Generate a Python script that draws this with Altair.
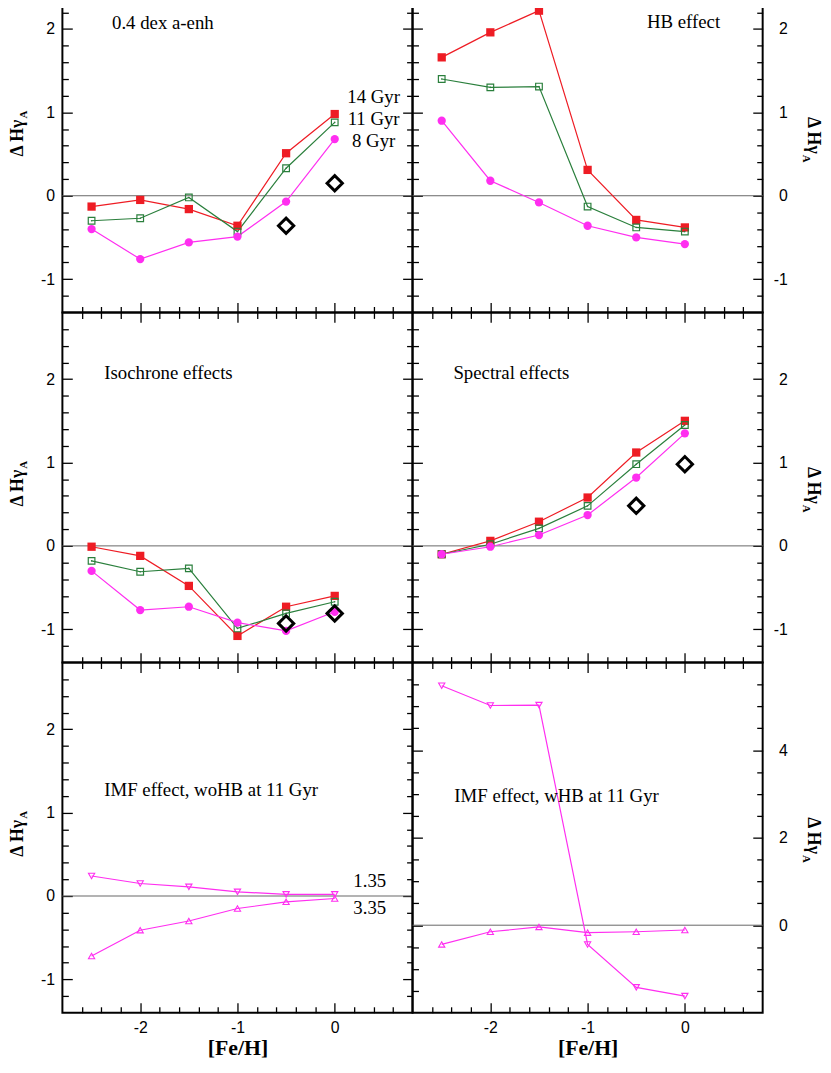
import altair as alt
import pandas as pd
import numpy as np

# ---------------- data ----------------
FEH = [-2.5, -2.0, -1.5, -1.0, -0.5, 0.0]
OBS_FEH = [-0.5, 0.0]

AENH_14 = [-0.13, -0.05, -0.16, -0.36, 0.51, 0.98]
AENH_11 = [-0.30, -0.27, -0.02, -0.43, 0.33, 0.88]
AENH_8 = [-0.40, -0.76, -0.56, -0.49, -0.07, 0.68]
AENH_OBS = [-0.36, 0.15]

HB_14 = [1.66, 1.96, 2.22, 0.31, -0.29, -0.38]
HB_11 = [1.40, 1.30, 1.31, -0.13, -0.38, -0.43]
HB_8 = [0.90, 0.18, -0.08, -0.36, -0.50, -0.58]

ISO_14 = [-0.01, -0.12, -0.48, -1.08, -0.73, -0.60]
ISO_11 = [-0.18, -0.31, -0.27, -0.99, -0.81, -0.67]
ISO_8 = [-0.30, -0.77, -0.73, -0.92, -1.02, -0.79]
ISO_OBS = [-0.93, -0.81]

SPEC_14 = [-0.10, 0.06, 0.29, 0.58, 1.12, 1.50]
SPEC_11 = [-0.10, 0.02, 0.21, 0.48, 0.98, 1.45]
SPEC_8 = [-0.10, -0.01, 0.13, 0.37, 0.82, 1.35]
SPEC_OBS = [0.48, 0.98]

WOHB_135 = [0.24, 0.15, 0.11, 0.05, 0.02, 0.02]
WOHB_335 = [-0.72, -0.41, -0.30, -0.15, -0.07, -0.03]

WHB_135 = [5.47, 5.02, 5.03, -0.44, -1.42, -1.62]
WHB_335 = [-0.44, -0.15, -0.04, -0.17, -0.15, -0.11]

# tick positions
X_DOMAIN = [-2.8, 0.8]
X_MAJOR = [-2, -1, 0]
Y_DOMAIN = [-1.4, 2.8]
Y_MAJOR = [-1, 0, 1, 2]
Y2_DOMAIN = [-2, 6]
Y2_MAJOR = [0, 2, 4]

RED = "#ee1c24"
GREEN = "#2a7f3c"
MAGENTA = "#ff2ef0"

W, H = 354, 354
SERIF = "Liberation Serif"
SANS = "Liberation Sans"

STYLES = {
    "14 Gyr": dict(color=RED, shape="square", filled=True, size=70, sw=1),
    "11 Gyr": dict(color=GREEN, shape="square", filled=False, size=45, sw=1.2),
    "8 Gyr": dict(color=MAGENTA, shape="circle", filled=True, size=70, sw=1),
    "1.35": dict(color=MAGENTA, shape="triangle-down", filled=False, size=40, sw=1.1),
    "3.35": dict(color=MAGENTA, shape="triangle-up", filled=False, size=40, sw=1.1),
}


def minor(lo, hi, step, majors):
    vals = np.round(np.arange(lo, hi + 1e-9, step), 3)
    return [float(v) for v in vals if not any(abs(v - m) < 1e-6 for m in majors)]


X_MINOR = minor(-2.8, 0.8, 0.2, X_MAJOR + [-2.8, 0.8])


def anchor(xv, yv):
    # invisible helper that fixes the drawing's outer bounds
    return alt.Chart(pd.DataFrame({"a": [0]})).mark_rule(opacity=0, strokeWidth=0.01).encode(
        x=alt.value(xv), x2=alt.value(xv), y=alt.value(yv), y2=alt.value(yv))


def panel(series, obs, texts, ydom, ymajor, ystep, left_col, bottom_row, anchors=()):
    xs = alt.Scale(domain=X_DOMAIN, nice=False, zero=False)
    ys = alt.Scale(domain=ydom, nice=False, zero=False)
    y_minor = minor(ydom[0], ydom[1], ystep, ymajor + ydom)
    base_ax = dict(grid=False, domain=False, tickColor="black", tickWidth=1.3,
                   labelFont=SANS, labelFontSize=16, labelColor="black",
                   labelExpr="'' + datum.value")
    carrier_df = pd.DataFrame({"x": [-1.0], "y": [0.0]})

    def carrier(xaxis, yaxis):
        return alt.Chart(carrier_df).mark_point(opacity=0, size=1).encode(
            x=alt.X("x:Q", scale=xs, axis=xaxis),
            y=alt.Y("y:Q", scale=ys, axis=yaxis),
        )

    xb = dict(base_ax, orient="bottom", offset=-10, tickSize=10, values=X_MAJOR,
              labels=bottom_row, labelPadding=7)
    if bottom_row:
        xb.update(title="[Fe/H]", titleFont=SERIF, titleFontWeight="bold",
                  titleFontSize=22, titleColor="black", titlePadding=2)
    else:
        xb.update(title=None)
    layers = [
        carrier(alt.Axis(**xb),
                alt.Axis(**base_ax, orient="left", offset=-10, tickSize=10, values=ymajor,
                         labels=left_col, labelPadding=8, title=None)),
        carrier(alt.Axis(**base_ax, orient="bottom", offset=-6, tickSize=6, values=X_MINOR,
                         labels=False, title=None),
                alt.Axis(**base_ax, orient="left", offset=-6, tickSize=6, values=y_minor,
                         labels=False, title=None)),
        carrier(alt.Axis(**base_ax, orient="top", offset=-10, tickSize=10, values=X_MAJOR,
                         labels=False, title=None),
                alt.Axis(**base_ax, orient="right", offset=-10, tickSize=10, values=ymajor,
                         labels=not left_col, labelAlign="right", labelPadding=25,
                         title=None)),
        carrier(alt.Axis(**base_ax, orient="top", offset=-6, tickSize=6, values=X_MINOR,
                         labels=False, title=None),
                alt.Axis(**base_ax, orient="right", offset=-6, tickSize=6, values=y_minor,
                         labels=False, title=None)),
    ]

    # zero line
    layers.append(
        alt.Chart(pd.DataFrame({"z": [0.0]})).mark_rule(color="#666666", strokeWidth=1).encode(
            y=alt.Y("z:Q", scale=ys, axis=None))
    )

    rows = []
    for name, vals in series:
        for f, v in zip(FEH, vals):
            rows.append({"feh": f, "val": v, "series": name})
    df = pd.DataFrame(rows)
    names = [n for n, _ in series]
    for name in names:
        st = STYLES[name]
        layers.append(
            alt.Chart(df).transform_filter(alt.datum.series == name).mark_line(
                strokeWidth=1.2, color=st["color"]).encode(
                x=alt.X("feh:Q", scale=xs, axis=None),
                y=alt.Y("val:Q", scale=ys, axis=None),
            )
        )
    for name in names:
        st = STYLES[name]
        layers.append(
            alt.Chart(df).transform_filter(alt.datum.series == name).mark_point(
                shape=st["shape"], filled=st["filled"], size=st["size"], opacity=1,
                color=st["color"], strokeWidth=st["sw"],
            ).encode(
                x=alt.X("feh:Q", scale=xs, axis=None),
                y=alt.Y("val:Q", scale=ys, axis=None),
            )
        )
        if name == "11 Gyr":
            layers.append(
                alt.Chart(df).transform_filter(alt.datum.series == name).mark_point(
                    shape="circle", filled=True, size=2.5, opacity=1, color=st["color"],
                ).encode(
                    x=alt.X("feh:Q", scale=xs, axis=None),
                    y=alt.Y("val:Q", scale=ys, axis=None),
                )
            )

    if obs is not None:
        odf = pd.DataFrame({"feh": OBS_FEH, "val": obs})
        layers.append(
            alt.Chart(odf).mark_point(shape="diamond", filled=False, size=240, opacity=1,
                                      color="black", strokeWidth=3).encode(
                x=alt.X("feh:Q", scale=xs, axis=None),
                y=alt.Y("val:Q", scale=ys, axis=None),
            )
        )

    for (tx, ty, txt, align) in texts:
        tdf = pd.DataFrame({"x": [tx], "y": [ty], "t": [txt]})
        layers.append(
            alt.Chart(tdf).mark_text(align=align, baseline="middle", font=SERIF,
                                     fontSize=19, color="black").encode(
                x=alt.X("x:Q", scale=xs, axis=None),
                y=alt.Y("y:Q", scale=ys, axis=None),
                text="t:N",
            )
        )

    # y title  "Δ Hγ" with subscript A
    one = pd.DataFrame({"a": [0]})
    if left_col:
        layers.append(alt.Chart(one).mark_text(
            text="Δ Hγ", angle=270, align="right", baseline="middle", font=SERIF,
            fontWeight="bold", fontSize=18, color="black").encode(
            x=alt.value(-45), y=alt.value(H / 2 - 18)))
        layers.append(alt.Chart(one).mark_text(
            text="A", angle=270, align="left", baseline="middle", font=SERIF,
            fontWeight="bold", fontSize=11, color="black").encode(
            x=alt.value(-38.5), y=alt.value(H / 2 - 19)))
    else:
        layers.append(alt.Chart(one).mark_text(
            text="Δ Hγ", angle=90, align="right", baseline="middle", font=SERIF,
            fontWeight="bold", fontSize=18, color="black").encode(
            x=alt.value(W + 50.5), y=alt.value(H / 2 + 16.5)))
        layers.append(alt.Chart(one).mark_text(
            text="A", angle=90, align="left", baseline="middle", font=SERIF,
            fontWeight="bold", fontSize=11, color="black").encode(
            x=alt.value(W + 44), y=alt.value(H / 2 + 17.5)))

    for ax_, ay_ in anchors:
        layers.append(anchor(ax_, ay_))

    return alt.layer(*layers).resolve_axis(x="independent", y="independent").properties(
        width=W, height=H)


three = lambda a, b, c: [("14 Gyr", a), ("11 Gyr", b), ("8 Gyr", c)]

p1 = panel(three(AENH_14, AENH_11, AENH_8), AENH_OBS,
           [(-2.29, 2.07, "0.4 dex a-enh", "left"),
            (0.40, 1.18, "14 Gyr", "center"),
            (0.40, 0.92, "11 Gyr", "center"),
            (0.40, 0.66, "8 Gyr", "center")],
           Y_DOMAIN, Y_MAJOR, 0.2, True, False, anchors=[(-70, -30)])
p2 = panel(three(HB_14, HB_11, HB_8), None,
           [(-0.39, 2.08, "HB effect", "left")],
           Y_DOMAIN, Y_MAJOR, 0.2, False, False, anchors=[(W + 70, -30)])
p3 = panel(three(ISO_14, ISO_11, ISO_8), ISO_OBS,
           [(-2.37, 2.07, "Isochrone effects", "left")],
           Y_DOMAIN, Y_MAJOR, 0.2, True, False)
p4 = panel(three(SPEC_14, SPEC_11, SPEC_8), SPEC_OBS,
           [(-2.38, 2.07, "Spectral effects", "left")],
           Y_DOMAIN, Y_MAJOR, 0.2, False, False)
p5 = panel([("1.35", WOHB_135), ("3.35", WOHB_335)], None,
           [(-2.37, 1.27, "IMF effect, woHB at 11 Gyr", "left"),
            (0.36, 0.18, "1.35", "center"),
            (0.36, -0.15, "3.35", "center")],
           Y_DOMAIN, Y_MAJOR, 0.2, True, True, anchors=[(-70, H + 60)])
p6 = panel([("1.35", WHB_135), ("3.35", WHB_335)], None,
           [(-2.37, 2.94, "IMF effect, wHB at 11 Gyr", "left")],
           Y2_DOMAIN, Y2_MAJOR, 0.5, False, True, anchors=[(W + 70, H + 60)])

chart = alt.concat(p1, p2, p3, p4, p5, p6, columns=2, spacing=0, bounds="flush").properties(
    padding={"left": -16, "top": -83, "right": -10, "bottom": -17},
    background="white",
).configure_view(stroke="black", strokeWidth=2)

chart.save("out.html", embed_options={"renderer": "svg", "actions": False})
